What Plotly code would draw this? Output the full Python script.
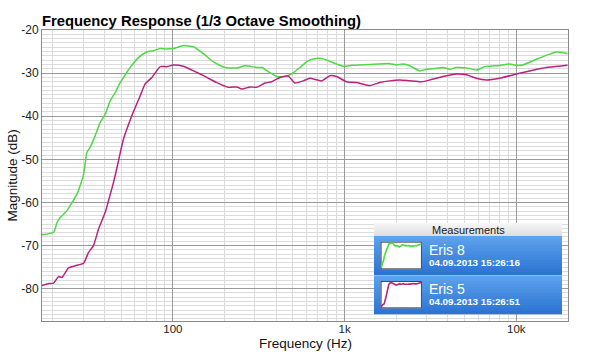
import math
import plotly.graph_objects as go

# ---------------- data ----------------
eris8_freq = [17.3, 20.2, 21.2, 22.1, 24.2, 25.9, 27.7, 28.9, 30.2, 31.6, 33.0, 35.3, 37.8,
              40.4, 43.2, 46.2, 48.3, 51.6, 56.4, 63.1, 70.6, 77.1, 84.4, 90.2, 100.8, 115.2,
              131.8, 150.6, 172.2, 201.4, 235.6, 263.3, 307.8, 329.2, 367.9, 402.4, 449.8,
              491.9, 549.8, 614.3, 687.4, 751.0, 858.5, 981.5, 1098, 1227, 1403, 1834, 2006,
              2192, 2397, 2741, 2998, 3427, 3744, 4095, 4479, 5352, 5854, 6542, 7648, 9143,
              10000, 10925, 13070, 15620, 17085, 18667, 19880]
eris8_db = [-67.5, -66.9, -64.6, -63.5, -61.9, -60.0, -58.0, -56.0, -53.5, -48.4, -47.2, -44.5,
            -41.4, -39.5, -36.4, -34.5, -32.9, -31.0, -28.7, -26.4, -25.1, -24.8, -24.3, -24.4,
            -24.3, -23.6, -23.9, -25.5, -27.4, -28.7, -28.8, -28.3, -28.7, -28.7, -29.9, -30.8,
            -30.8, -30.2, -28.7, -27.1, -26.6, -26.7, -27.6, -28.4, -28.2, -28.1, -28.0, -27.8,
            -28.1, -27.9, -28.3, -29.5, -29.1, -28.9, -28.7, -29.1, -28.7, -28.9, -29.3, -28.5,
            -28.3, -27.9, -28.2, -28.1, -26.8, -25.6, -25.1, -25.2, -25.5]

eris5_freq = [17.3, 18.9, 20.2, 21.6, 22.6, 24.7, 27.0, 30.2, 32.3, 34.5, 36.9, 40.4, 42.2,
              45.1, 47.3, 49.4, 51.6, 57.7, 64.5, 69.0, 75.5, 84.4, 92.3, 100.8, 115.2, 126.1,
              144.1, 157.7, 180.3, 210.6, 235.6, 251.9, 281.5, 307.8, 344.1, 376.3, 420.6,
              469.9, 514.0, 574.5, 628.4, 734.9, 821.5, 898.4, 1027, 1174, 1403, 1604, 1834,
              2097, 2397, 2804, 3133, 3744, 4479, 5121, 5854, 6693, 8000, 10000, 11950, 14940,
              18667, 19880]
eris5_db = [-79.3, -78.8, -78.7, -77.2, -77.4, -75.2, -74.7, -74.1, -71.6, -70.0, -66.2, -62.3,
            -59.6, -55.4, -51.9, -48.5, -45.3, -39.9, -35.3, -32.5, -31.0, -28.5, -28.5, -28.1,
            -28.4, -29.1, -30.2, -31.0, -32.2, -33.3, -33.2, -33.7, -33.2, -33.3, -32.3, -32.0,
            -31.0, -30.7, -32.3, -31.8, -31.2, -31.8, -30.6, -30.8, -32.0, -32.2, -32.9, -32.2,
            -31.8, -31.6, -31.8, -32.0, -31.6, -30.8, -30.2, -30.4, -31.2, -31.6, -31.2, -30.2,
            -29.5, -28.7, -28.3, -28.2]

series_names = ["Eris 8", "Eris 5"]
series_dates = ["04.09.2013 15:26:16", "04.09.2013 15:26:51"]
x_tick_vals = [100, 1000, 10000]
x_tick_text = ["100", "1k", "10k"]
y_tick_vals = [-20, -30, -40, -50, -60, -70, -80]
y_tick_text = ["-20", "-30", "-40", "-50", "-60", "-70", "-80"]

# ---------------- layout geometry ----------------
W_FIG, H_FIG = 590, 354
L, R, T, B = 42, 22, 30, 33
PW, PH = W_FIG - L - R, H_FIG - T - B
XR = [math.log10(17.3), math.log10(20000)]
YR = [-87.5, -20]

GREEN = "#4fd844"
MAGENTA = "#b8237f"
FONT = "Liberation Sans, Arial, sans-serif"


def px_x(px):  # pixel -> paper
    return (px - L) / PW


def px_y(py):
    return (T + PH - py) / PH


def data_x(px):  # pixel -> main x data (frequency)
    return 10 ** (XR[0] + (px - L) / PW * (XR[1] - XR[0]))


def data_y(py):
    return YR[1] - (py - T) / PH * (YR[1] - YR[0])


fig = go.Figure()
fig.add_trace(go.Scatter(x=eris8_freq, y=eris8_db, mode="lines", name=series_names[0],
                         line=dict(color=GREEN, width=1.5, shape="spline", smoothing=0.5)))
fig.add_trace(go.Scatter(x=eris5_freq, y=eris5_db, mode="lines", name=series_names[1],
                         line=dict(color=MAGENTA, width=1.5, shape="spline", smoothing=0.5)))

# thumbnails
thumb_boxes = [(380.7, 421.7, 241.7, 269.3), (380.7, 421.7, 281.0, 308.3)]
thumb_yr = [[-72, -21], [-83, -25]]
thumb_data = [(eris8_freq, eris8_db, GREEN), (eris5_freq, eris5_db, MAGENTA)]
for i, ((x0, x1, y0, y1), (fx, fy, col)) in enumerate(zip(thumb_boxes, thumb_data)):
    n = i + 2
    fig.add_trace(go.Scatter(x=fx, y=fy, mode="lines", xaxis=f"x{n}", yaxis=f"y{n}",
                             line=dict(color=col, width=1.6), hoverinfo="skip"))
    fig.update_layout(**{
        f"xaxis{n}": dict(type="log", domain=[px_x(x0), px_x(x1)], anchor=f"y{n}",
                          range=XR, visible=False, fixedrange=True),
        f"yaxis{n}": dict(domain=[px_y(y1), px_y(y0)], anchor=f"x{n}", range=thumb_yr[i],
                          visible=False, fixedrange=True),
    })
    fig.add_shape(type="rect", xref=f"x{n}", yref=f"y{n}", layer="below",
                  x0=10 ** XR[0], x1=10 ** XR[1], y0=thumb_yr[i][0], y1=thumb_yr[i][1],
                  fillcolor="white", line=dict(color="#101010", width=1.5))

# legend panel (drawn between main grid and main traces)
PX0, PX1 = 374, 562
bands = 13


def band_rects(y_top, y_bot, c_top, c_bot):
    h = (y_bot - y_top) / bands
    for k in range(bands):
        t = k / (bands - 1)
        c = tuple(round(a + (b - a) * t) for a, b in zip(c_top, c_bot))
        fig.add_shape(type="rect", xref="x", yref="y", layer="between",
                      x0=data_x(PX0), x1=data_x(PX1),
                      y0=data_y(y_top + k * h), y1=data_y(y_top + (k + 1) * h + 0.3),
                      fillcolor=f"rgb{c}", line=dict(width=0))


band_rects(223, 236, (246, 246, 246), (222, 222, 222))
band_rects(236, 275, (92, 162, 236), (44, 116, 210))
band_rects(275, 314, (92, 162, 236), (44, 116, 210))
fig.add_shape(type="line", xref="x", yref="y", layer="between",
              x0=data_x(PX0), x1=data_x(PX1), y0=data_y(275.5), y1=data_y(275.5),
              line=dict(color="rgb(140,190,240)", width=1))

ann = [dict(x=px_x(468), y=px_y(230), text="Measurements", xanchor="center", yanchor="middle",
            font=dict(size=11, color="#1a1a1a", family=FONT))]
for i, (name, date) in enumerate(zip(series_names, series_dates)):
    base = 236 + 39 * i
    ann.append(dict(x=px_x(427), y=px_y(base + 13.5), text=name, xanchor="left", align="left",
                    yanchor="middle", font=dict(size=14, color="white", family=FONT)))
    ann.append(dict(x=px_x(427), y=px_y(base + 26.5), text=f"<b>{date}</b>", xanchor="left",
                    align="left", yanchor="middle",
                    font=dict(size=9.8, color="white", family=FONT)))

ann.append(dict(x=0.5, y=px_y(343), text="Frequency (Hz)", xanchor="center", yanchor="middle",
                font=dict(size=13.5, color="#111", family=FONT)))
ann.append(dict(x=px_x(12), y=0.5, text="Magnitude (dB)", textangle=-90, xanchor="center",
                yanchor="middle", font=dict(size=13.5, color="#111", family=FONT)))
for a in ann:
    a.update(xref="paper", yref="paper", showarrow=False)

fig.update_layout(
    width=W_FIG, height=H_FIG, margin=dict(l=L, r=R, t=T, b=B, pad=0),
    paper_bgcolor="white", plot_bgcolor="white", showlegend=False,
    font=dict(family=FONT, size=12, color="#222"),
    title=dict(text="<b>Frequency Response (1/3 Octave Smoothing)</b>",
               xref="container", yref="container", x=L / W_FIG, xanchor="left",
               y=1 - 20.5 / H_FIG, yanchor="middle", pad=dict(l=0, r=0, t=0, b=0),
               font=dict(size=14.8, color="black", family=FONT)),
    annotations=ann,
    xaxis=dict(type="log", range=XR, tickmode="array", tickvals=x_tick_vals,
               ticktext=x_tick_text, showgrid=True, gridcolor="#9a9a9a", gridwidth=1,
               minor=dict(dtick="D1", showgrid=True, gridcolor="#dcdcdc", gridwidth=1),
               showline=True, mirror=True, linecolor="#8a8a8a", linewidth=1,
               ticks="", tickfont=dict(size=11.5, color="#222"), zeroline=False,
               ticklabelstandoff=-3, domain=[0, 1], fixedrange=True),
    yaxis=dict(range=YR, tickmode="array", tickvals=y_tick_vals, ticktext=y_tick_text,
               showgrid=True, gridcolor="#9a9a9a", gridwidth=1,
               minor=dict(dtick=1, showgrid=True, gridcolor="#dcdcdc", gridwidth=1),
               showline=True, mirror=True, linecolor="#8a8a8a", linewidth=1,
               ticks="", tickfont=dict(size=12, color="#222"), zeroline=False,
               domain=[0, 1], fixedrange=True),
)

fig.write_html("out.html")
